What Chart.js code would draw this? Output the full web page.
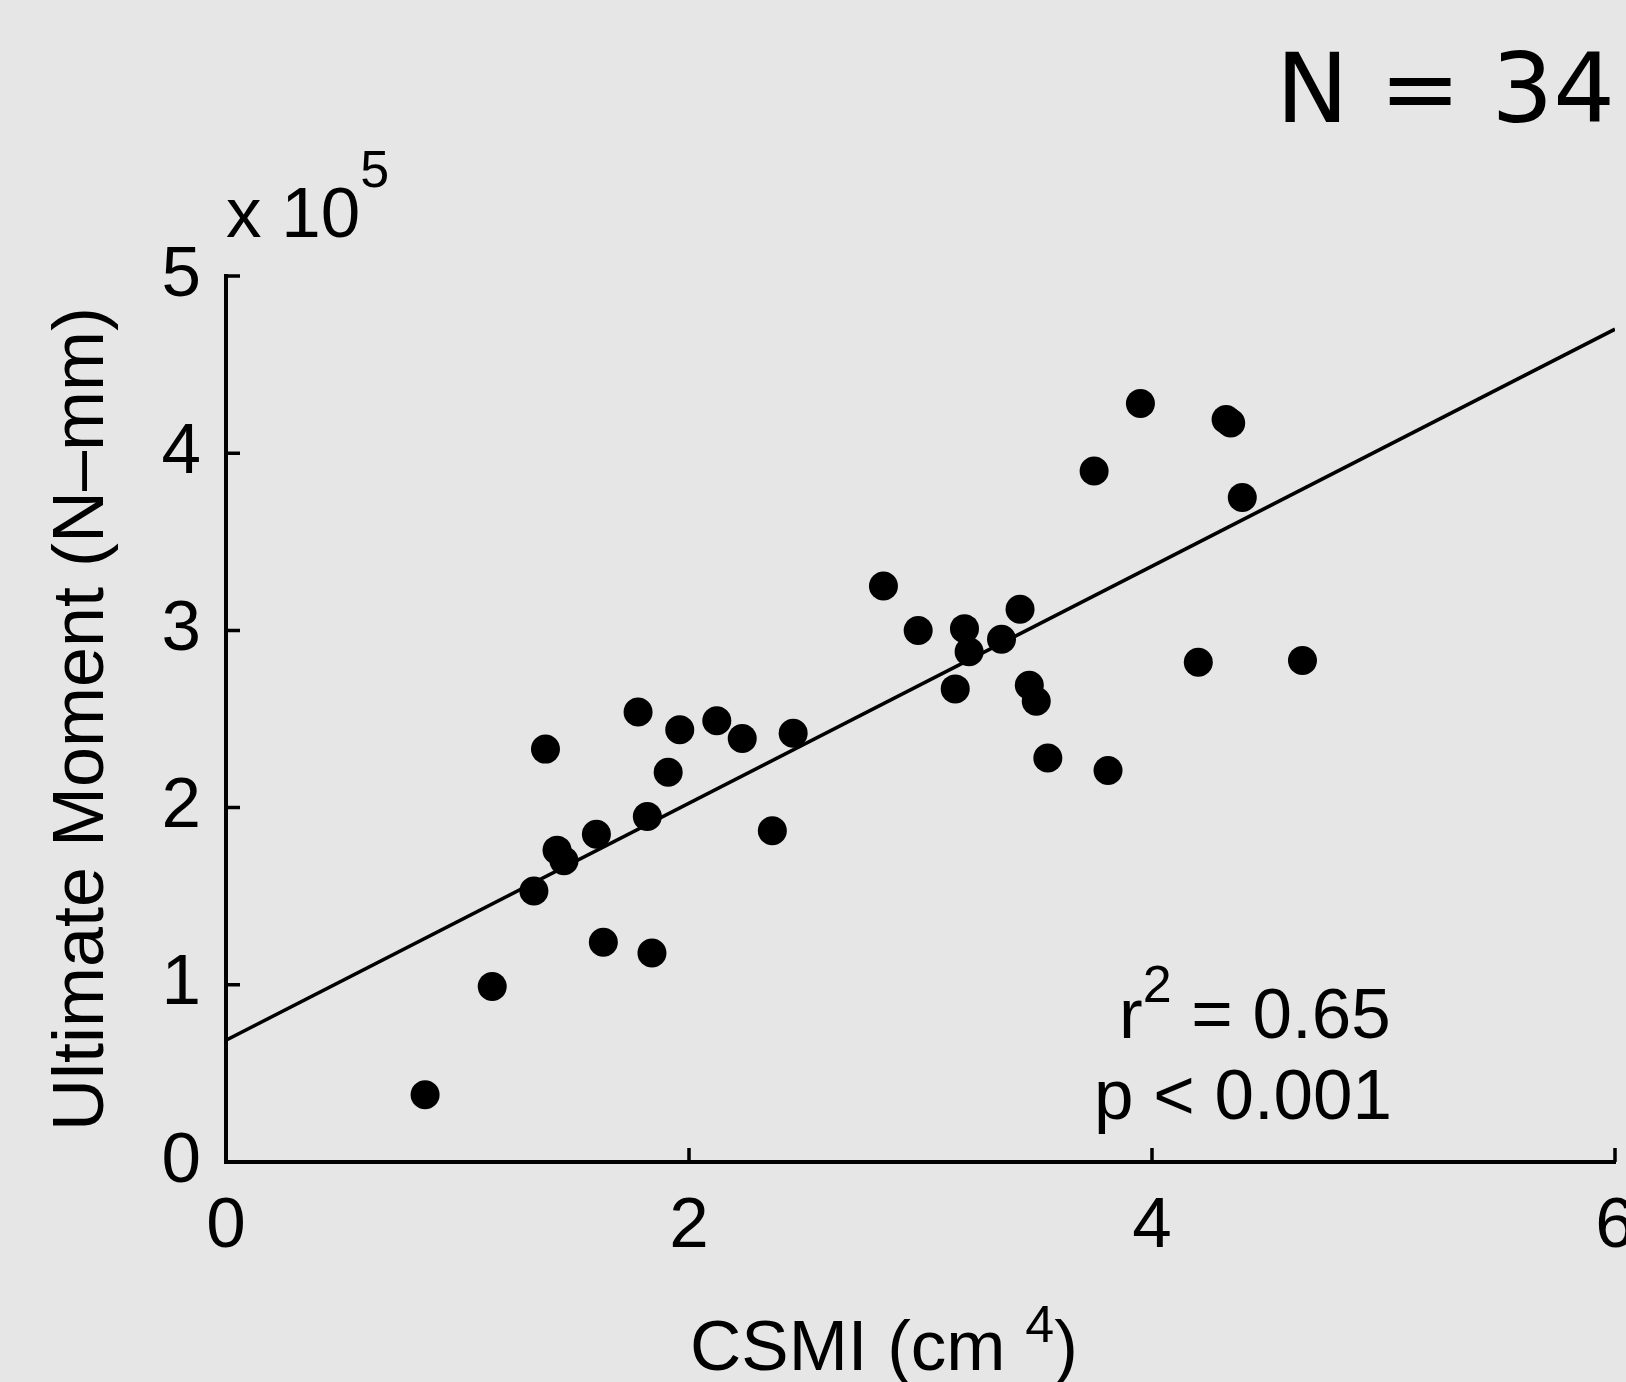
<!DOCTYPE html>
<html>
<head>
<meta charset="utf-8">
<script src="https://cdn.jsdelivr.net/npm/chart.js@4.4.1/dist/chart.umd.min.js"></script>
<style>
  html, body { margin: 0; padding: 0; background: #e6e6e6; }
  canvas { display: block; }
</style>
</head>
<body>
<canvas id="myChart" width="1626" height="1382"></canvas>
<script>
// CSMI (cm^4) y momento ultimo (x 10^5 N-mm)
const csmi = [0.86, 1.15, 1.33, 1.38, 1.43, 1.46, 1.60, 1.63, 1.78, 1.82, 1.84, 1.91,
              1.96, 2.12, 2.23, 2.36, 2.45, 2.84, 2.99, 3.15, 3.19, 3.21, 3.35, 3.43,
              3.47, 3.50, 3.55, 3.75, 3.81, 3.95, 4.20, 4.32, 4.34, 4.39, 4.65];
const momento = [0.38, 0.99, 1.53, 2.33, 1.76, 1.70, 1.85, 1.24, 2.54, 1.95, 1.18, 2.20,
                 2.44, 2.49, 2.39, 1.87, 2.42, 3.25, 3.00, 2.67, 3.01, 2.88, 2.95, 3.12,
                 2.69, 2.60, 2.28, 3.90, 2.21, 4.28, 2.82, 4.19, 4.17, 3.75, 2.83];

// recta de ajuste
const rectaX = [0, 6];
const rectaY = [0.687, 4.70];

const ticksX = [0, 2, 4, 6];
const ticksY = [0, 1, 2, 3, 4, 5];

const fuente = "'Liberation Sans', Arial, sans-serif";

let myChart;

const fondo = {
    id: 'fondo',
    beforeDraw(chart) {
        const ctx = chart.ctx;
        ctx.save();
        ctx.fillStyle = '#e6e6e6';
        ctx.fillRect(0, 0, chart.width, chart.height);
        ctx.restore();
    }
};

const marcasYTextos = {
    id: 'marcasYTextos',
    afterDraw(chart) {
        const ctx = chart.ctx;
        const area = chart.chartArea;
        const sx = chart.scales.x;
        const sy = chart.scales.y;
        ctx.save();

        // marcas hacia dentro
        ctx.strokeStyle = '#000';
        ctx.lineWidth = 3.5;
        ctx.beginPath();
        sx.ticks.forEach(t => {
            const px = sx.getPixelForValue(t.value);
            ctx.moveTo(px, area.bottom);
            ctx.lineTo(px, area.bottom - 14);
        });
        sy.ticks.forEach(t => {
            const py = sy.getPixelForValue(t.value);
            ctx.moveTo(area.left, py);
            ctx.lineTo(area.left + 14, py);
        });
        ctx.stroke();

        ctx.fillStyle = '#000';
        ctx.textBaseline = 'alphabetic';
        ctx.textAlign = 'left';

        // x 10^5
        ctx.font = '71px ' + fuente;
        ctx.fillText('x 10', 226, 237);
        let w = ctx.measureText('x 10').width;
        ctx.font = '52px ' + fuente;
        ctx.fillText('5', 226 + w, 187);

        // N = 34
        ctx.font = "97px 'DejaVu Sans', sans-serif";
        ctx.fillText('N = 34', 1276, 122);

        // r^2 = 0.65
        ctx.font = '71px ' + fuente;
        ctx.fillText('r', 1119, 1038);
        w = ctx.measureText('r').width;
        ctx.font = '52px ' + fuente;
        ctx.fillText('2', 1119 + w, 1002);
        const w2 = ctx.measureText('2').width;
        ctx.font = '71px ' + fuente;
        ctx.fillText(' = 0.65', 1119 + w + w2, 1038);

        // p < 0.001
        ctx.fillText('p < 0.001', 1094, 1119);

        // titulo eje x: CSMI (cm ^4)
        ctx.font = '71px ' + fuente;
        ctx.fillText('CSMI (cm ', 690, 1370);
        w = ctx.measureText('CSMI (cm ').width;
        ctx.font = '52px ' + fuente;
        ctx.fillText('4', 690 + w, 1342);
        const w4 = ctx.measureText('4').width;
        ctx.font = '71px ' + fuente;
        ctx.fillText(')', 690 + w + w4, 1370);

        ctx.restore();
    }
};

function crearGrafica() {
    if (myChart) {
        myChart.destroy();
    }

    Chart.defaults.color = '#000';
    const ctx = document.getElementById('myChart').getContext('2d');

    myChart = new Chart(ctx, {
        type: 'scatter',
        data: {
            datasets: [{
                label: 'Medidas',
                data: csmi.map((v, i) => ({ x: v, y: momento[i] })),
                backgroundColor: '#000',
                borderWidth: 0,
                pointRadius: 14.5,
                pointHoverRadius: 14.5
            }, {
                type: 'line',
                label: 'Ajuste',
                data: rectaX.map((v, i) => ({ x: v, y: rectaY[i] })),
                borderColor: '#000',
                borderWidth: 3.5,
                pointRadius: 0,
                fill: false
            }]
        },
        options: {
            responsive: false,
            animation: false,
            devicePixelRatio: 1,
            layout: {
                autoPadding: false,
                padding: { top: 276, right: 11, left: 0, bottom: 0 }
            },
            plugins: {
                legend: { display: false },
                tooltip: { enabled: false }
            },
            scales: {
                x: {
                    type: 'linear',
                    min: 0,
                    max: 6,
                    afterBuildTicks: s => { s.ticks = ticksX.map(v => ({ value: v })); },
                    afterFit: s => { s.height = 220; s.paddingLeft = 0; s.paddingRight = 0; },
                    grid: { display: false, drawTicks: false },
                    border: { display: true, color: '#000', width: 4 },
                    ticks: {
                        padding: 23,
                        maxRotation: 0,
                        font: { family: fuente, size: 71 }
                    }
                },
                y: {
                    type: 'linear',
                    min: 0,
                    max: 5,
                    afterBuildTicks: s => { s.ticks = ticksY.map(v => ({ value: v })); },
                    afterFit: s => { s.width = 226; s.paddingTop = 0; s.paddingBottom = 0; },
                    grid: { display: false, drawTicks: false },
                    border: { display: true, color: '#000', width: 4 },
                    ticks: {
                        padding: 25,
                        font: { family: fuente, size: 71 }
                    },
                    title: {
                        display: true,
                        text: 'Ultimate Moment (N–mm)',
                        font: { family: fuente, size: 72 },
                        padding: { top: 40, bottom: 0 }
                    }
                }
            }
        },
        plugins: [fondo, marcasYTextos]
    });
}

crearGrafica();
</script>
</body>
</html>
